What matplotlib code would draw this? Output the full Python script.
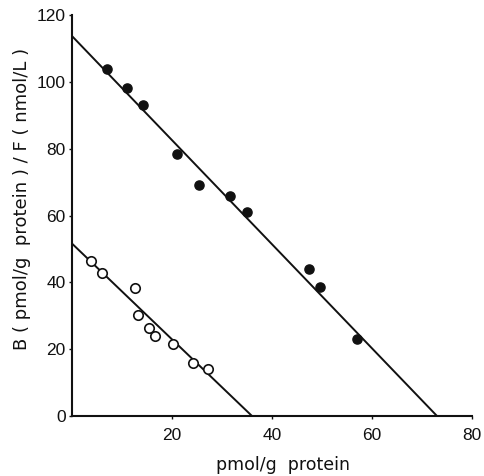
import matplotlib
matplotlib.use("Agg")
import matplotlib.pyplot as plt
import numpy as np

# Filled circles (series 1)
filled_x = [7.0, 11.0, 14.2, 21.0, 25.4, 31.6, 35.0, 47.4, 49.6, 57.0]
filled_y = [103.9, 98.2, 93.1, 78.5, 69.2, 65.7, 60.9, 43.9, 38.5, 23.0]
filled_yint = 113.7   # B/F intercept
filled_xint = 73.0    # B intercept (Bmax)

# Open circles (series 2)
open_x = [3.8, 6.0, 12.6, 13.2, 15.4, 16.6, 20.2, 24.2, 27.2]
open_y = [46.3, 42.7, 38.2, 30.1, 26.3, 23.9, 21.5, 15.8, 14.0]
open_yint = 51.6
open_xint = 36.0

xticks = [20, 40, 60, 80]
yticks = [0, 20, 40, 60, 80, 100, 120]

plt.rcParams['font.family'] = ['Liberation Sans', 'DejaVu Sans']

fig = plt.figure(figsize=(4.84, 4.76), dpi=100)
ax = fig.add_axes([72/484, 60/476, 400/484, 401/476])

ink = '#111111'
ax.plot([0, filled_xint], [filled_yint, 0], color=ink, lw=1.4)
ax.plot([0, open_xint], [open_yint, 0], color=ink, lw=1.4)
ax.plot(filled_x, filled_y, 'o', color=ink, ms=6.6, mec=ink)
ax.plot(open_x, open_y, 'o', mfc='white', mec=ink, ms=6.8, mew=1.2)

ax.set_xlim(0, 80)
ax.set_ylim(0, 120)
ax.set_xticks(xticks)
ax.set_yticks(yticks)
ax.spines['top'].set_visible(False)
ax.spines['right'].set_visible(False)
for s in ['left', 'bottom']:
    ax.spines[s].set_linewidth(1.5)
    ax.spines[s].set_color(ink)
ax.tick_params(axis='both', length=2.5, width=1, labelsize=12.5, colors=ink)
ax.tick_params(axis='x', pad=6)
ax.tick_params(axis='y', pad=2)

fig.text(283/484, 1 - 465/476, 'pmol/g  protein', family='DejaVu Sans',
         fontsize=12.5, color=ink, ha='center', va='center')
fig.text(22/484, 1 - 199/476, 'B ( pmol/g  protein ) / F ( nmol/L )',
         family='DejaVu Sans', fontsize=13, color=ink, rotation=90,
         ha='center', va='center')

fig.savefig('out.png', dpi=100)
